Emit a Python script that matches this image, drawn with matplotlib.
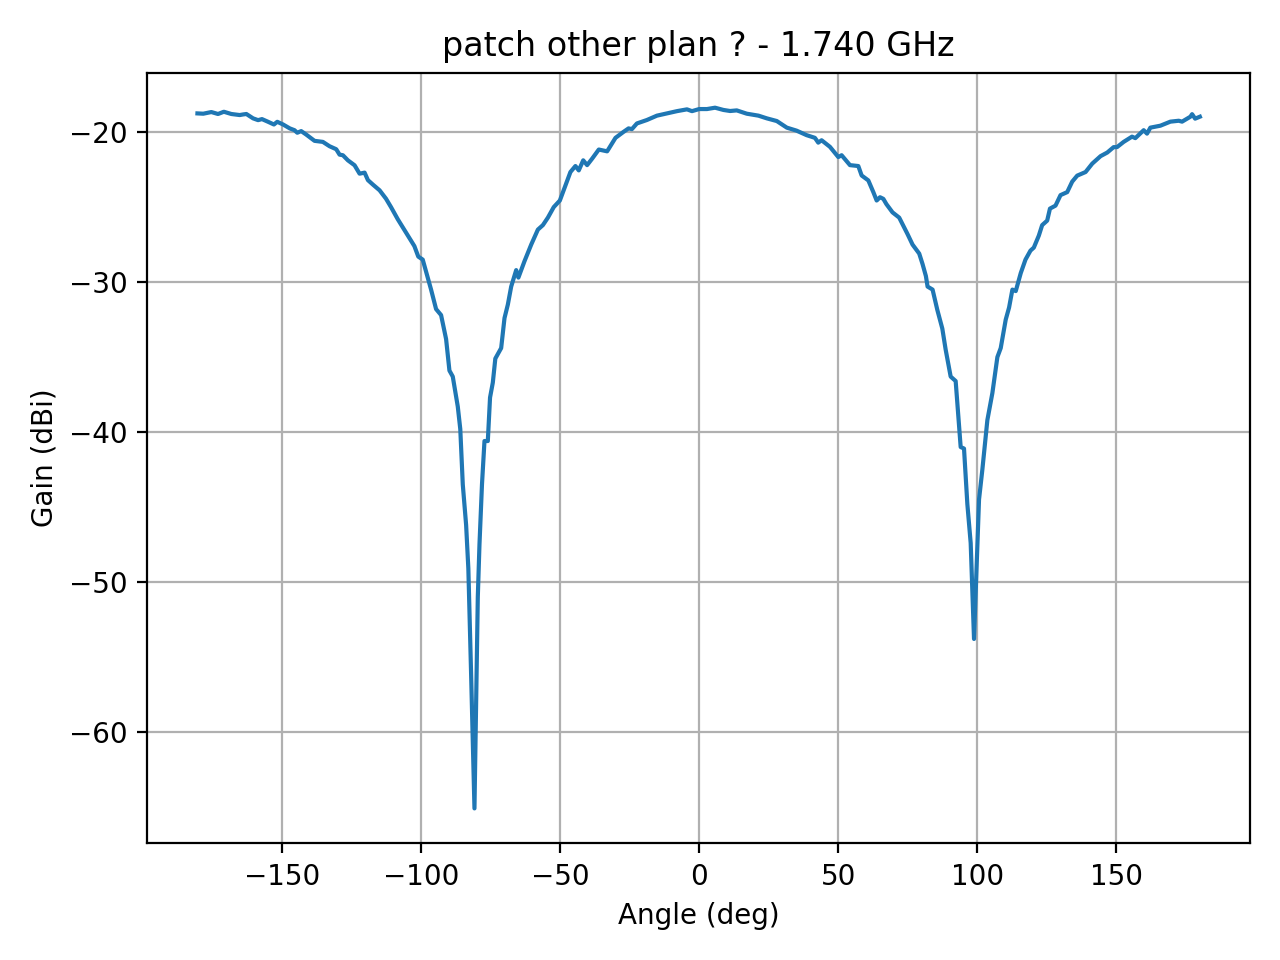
import matplotlib
matplotlib.use('Agg')
import matplotlib.pyplot as plt

# angulos (deg) e ganho correspondente (dBi)
angle = [-180.4, -178.3, -175.4, -173.0, -170.9, -168.2, -165.2, -164.0, -162.8, -160.4,
         -158.6, -157.2, -155.0, -152.9, -151.7, -149.6, -147.2, -145.5, -144.5, -143.1,
         -141.3, -138.3, -135.3, -132.9, -130.5, -129.3, -128.1, -126.3, -123.9, -122.1,
         -120.3, -119.1, -117.3, -114.9, -112.6, -110.8, -108.4, -102.4, -101.0, -99.4,
         -96.4, -94.6, -92.8,
         -91.0, -89.8, -88.6, -86.8, -85.9, -85.0, -83.8, -83.0, -82.0, -80.8,
         -79.6, -79.0, -78.1, -77.2, -76.0, -75.2, -74.2, -73.3, -71.2, -70.0,
         -68.8, -67.6, -65.8, -65.0, -62.8, -60.4, -58.0, -56.2, -54.4, -52.3,
         -50.1, -48.1, -46.3, -44.5, -43.3, -41.7, -40.3, -38.5, -36.1, -33.1,
         -30.1, -27.2, -25.4, -24.2, -22.4, -18.8, -15.2, -11.6, -8.0, -4.4,
         -2.6, 0.0, 2.8, 5.7, 8.7, 11.1, 13.5, 17.1, 21.3, 24.3,
         27.9, 31.5, 35.0, 38.6, 41.6, 42.8, 44.0, 47.0, 50.0, 51.2,
         54.2, 57.2, 58.4, 60.8, 62.6, 63.8, 65.0, 66.2, 67.3, 69.5,
         71.9, 74.9, 76.7, 79.1, 80.3, 81.5, 82.1, 83.9, 85.6, 87.4,
         88.6, 90.4, 92.2, 93.4, 94.0, 95.2, 96.4, 97.6, 98.8, 100.6,
         101.8, 103.6, 105.4, 107.2, 108.4, 110.2, 111.4, 112.6, 113.8, 115.6,
         117.3, 119.1, 120.3, 122.1, 123.3, 125.1, 126.1, 128.1, 129.9, 132.3,
         134.1, 135.9, 138.9, 141.3, 144.3, 146.7, 149.0, 150.2, 152.6, 155.6,
         156.8, 159.8, 161.0, 162.2, 165.8, 169.4, 172.4, 173.6, 176.6, 177.2,
         178.3, 180.0]

gain = [-18.75, -18.77, -18.66, -18.79, -18.64, -18.79, -18.86, -18.82, -18.79, -19.08,
        -19.2, -19.13, -19.31, -19.49, -19.31, -19.49, -19.75, -19.87, -20.04, -19.93,
        -20.16, -20.58, -20.65, -20.94, -21.14, -21.5, -21.54, -21.88, -22.21, -22.77,
        -22.7, -23.2, -23.5, -23.88, -24.44, -25.0, -25.8, -27.6, -28.3, -28.5,
        -30.5, -31.8, -32.2,
        -33.8, -35.9, -36.3, -38.3, -39.8, -43.5, -46.2, -49.1, -56.2, -65.1,
        -51.0, -47.5, -43.5, -40.6, -40.6, -37.7, -36.7, -35.1, -34.4, -32.4,
        -31.5, -30.3, -29.2, -29.7, -28.6, -27.5, -26.5, -26.2, -25.7, -25.0,
        -24.56, -23.56, -22.66, -22.26, -22.55, -21.88, -22.2, -21.77, -21.16, -21.28,
        -20.38, -19.98, -19.75, -19.8, -19.42, -19.19, -18.9, -18.75, -18.6, -18.48,
        -18.6, -18.46, -18.46, -18.37, -18.52, -18.59, -18.55, -18.77, -18.9, -19.08,
        -19.26, -19.7, -19.9, -20.2, -20.38, -20.7, -20.54, -20.98, -21.66, -21.54,
        -22.2, -22.26, -22.89, -23.22, -24.0, -24.56, -24.34, -24.45, -24.8, -25.35,
        -25.7, -26.8, -27.5, -28.1, -28.8, -29.6, -30.3, -30.5, -31.85, -33.1,
        -34.5, -36.3, -36.6, -39.6, -41.0, -41.1, -44.8, -47.4, -53.8, -44.5,
        -42.5, -39.2, -37.4, -35.0, -34.4, -32.5, -31.7, -30.5, -30.6, -29.4,
        -28.5, -27.9, -27.7, -26.9, -26.2, -25.9, -25.1, -24.9, -24.2, -24.0,
        -23.3, -22.9, -22.66, -22.1, -21.6, -21.36, -21.0, -21.0, -20.65, -20.3,
        -20.4, -19.87, -20.1, -19.7, -19.57, -19.3, -19.24, -19.3, -18.97, -18.8,
        -19.1, -18.97]

fig, ax = plt.subplots(figsize=(6.4, 4.8), dpi=200)
ax.plot(angle, gain)
ax.set_title('patch other plan ? - 1.740 GHz')
ax.set_xlabel('Angle (deg)')
ax.set_ylabel('Gain (dBi)')
ax.grid()

fig.tight_layout()
fig.savefig('out.png')
